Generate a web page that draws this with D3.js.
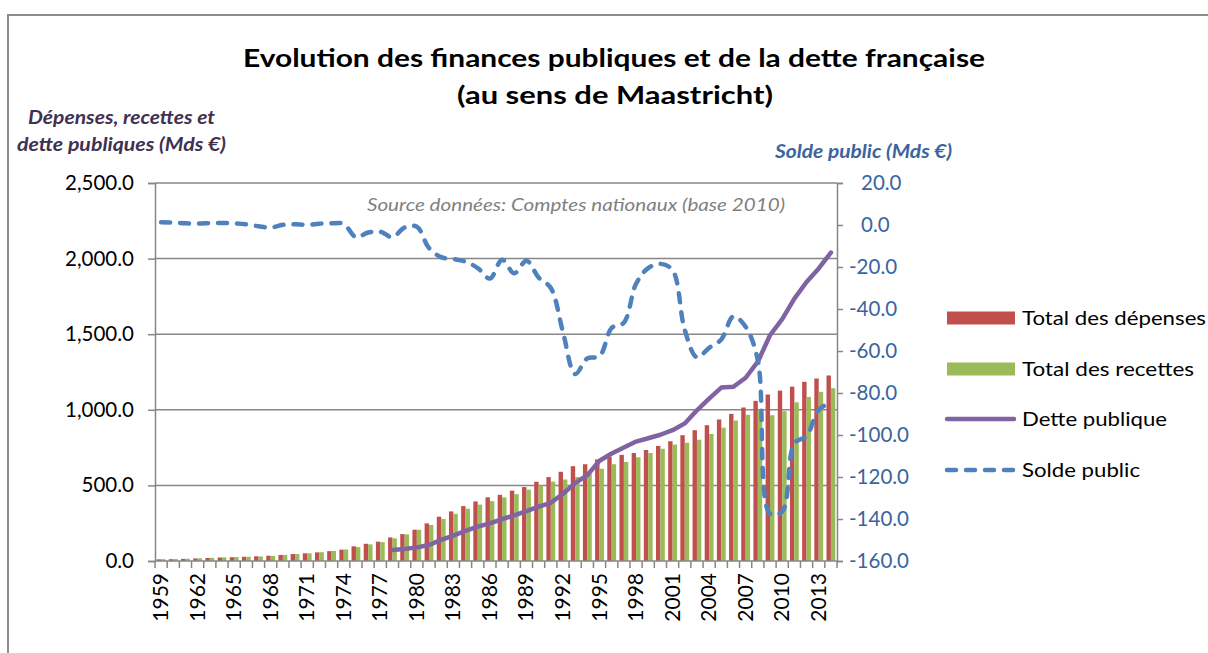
<!DOCTYPE html>
<html>
<head>
<meta charset="utf-8">
<script src="https://cdn.jsdelivr.net/npm/d3@7"></script>
<style>
  body { margin: 0; background: #fff; }
  svg { display: block; }
  text { font-family: Lato, "Open Sans", sans-serif; }
</style>
</head>
<body>
<svg id="chart" width="1208" height="653"></svg>
<script>
// Années (catégories de l'axe horizontal)
const years = [1959,1960,1961,1962,1963,1964,1965,1966,1967,1968,1969,1970,1971,1972,1973,1974,
  1975,1976,1977,1978,1979,1980,1981,1982,1983,1984,1985,1986,1987,1988,1989,1990,1991,1992,
  1993,1994,1995,1996,1997,1998,1999,2000,2001,2002,2003,2004,2005,2006,2007,2008,2009,2010,
  2011,2012,2013,2014];

// Total des dépenses publiques (Mds €)
const depenses = [11,12,14,17,20,23,25,28,31,35,40,46,51,57,65,75,
  97,114,128,156,178,207,249,293,328,363,394,421,438,465,489,524,555,590,
  627,640,672,688,702,714,734,761,792,832,865,898,936,973,1015,1059,1101,1127,
  1153,1185,1207,1227];

// Total des recettes publiques (Mds €)
const recettes = [12,13,15,18,21,24,26,28,30,34,40,46,51,58,66,76,
  92,110,125,150,176,206,238,278,312,346,373,396,421,442,472,499,525,539,
  556,576,610,640,655,686,714,742,770,782,802,840,882,929,967,995,964,991,
  1049,1085,1119,1143];

// Dette publique au sens de Maastricht (Mds €), disponible à partir de 1978
const dette = [null,null,null,null,null,null,null,null,null,null,null,null,null,null,null,null,
  null,null,null,73,80,90,106,140,168,200,227,249,277,302,330,360,385,445,
  515,568,663,711,751,790,812,835,865,910,997,1074,1147,1152,1212,1318,1493,1600,
  1735,1845,1935,2040];

// Solde public (Mds €)
const solde = [1.3,1.2,0.8,0.7,0.9,1.0,0.8,0.3,-0.6,-1.2,0.1,0.3,0.1,0.6,0.8,0.5,
  -5.8,-3.6,-3.2,-5.8,-1.2,-0.8,-11,-15.3,-16.2,-17.5,-20.5,-25.5,-16.5,-23,-17,-25,-30,-51,
  -71,-63.5,-62.5,-49,-46.5,-28,-20.5,-18.5,-21.5,-50,-63,-58.5,-54.5,-43.5,-48.5,-64.5,-137.5,-136.5,
  -104,-100.5,-88,-84.5];

// Graduations des axes et libellés
const leftTicks = [0,500,1000,1500,2000,2500];
const rightTicks = [20,0,-20,-40,-60,-80,-100,-120,-140,-160];
const yearLabels = [1959,1962,1965,1968,1971,1974,1977,1980,1983,1986,1989,1992,1995,1998,2001,2004,2007,2010,2013];
const seriesNames = ["Total des dépenses","Total des recettes","Dette publique","Solde public"];

const colors = { dep: "#c0504d", rec: "#9bbb59", dette: "#8064a2", solde: "#4f81bd" };
const gridColor = "#878787";

const svg = d3.select("#chart");
const plot = { left: 155, right: 837, top: 183, bottom: 561 };

// Cadre du graphique
svg.append("path")
  .attr("d", "M8,653 L8,15 L1208,15")
  .attr("fill", "none").attr("stroke", "#8c8c8c").attr("stroke-width", 2);

// Ajuste la largeur d'un texte à une largeur donnée
function fit(sel, w) {
  const n = sel.node().getComputedTextLength();
  if (Math.abs(n - w) > 1) sel.attr("textLength", w).attr("lengthAdjust", "spacingAndGlyphs");
  return sel;
}

// Échelles
const x = d3.scaleBand().domain(years).range([plot.left, plot.right]).padding(0);
const xs = d3.scaleBand().domain(["dep","rec"]).range([0, x.bandwidth()]).paddingInner(0).paddingOuter(0.38);
const y = d3.scaleLinear().domain([0, 2500]).range([plot.bottom, plot.top]);
const y2 = d3.scaleLinear().domain([-160, 20]).range([plot.bottom, plot.top]);

// Quadrillage horizontal
svg.append("g").selectAll("line").data(leftTicks.filter(d => d > 0)).join("line")
  .attr("x1", plot.left).attr("x2", plot.right)
  .attr("y1", d => y(d)).attr("y2", d => y(d))
  .attr("stroke", gridColor).attr("stroke-width", 1.5);

// Barres : dépenses et recettes
const bars = svg.append("g");
bars.selectAll("rect.dep").data(years).join("rect").attr("class", "dep")
  .attr("x", (d) => x(d) + xs("dep"))
  .attr("width", xs.bandwidth())
  .attr("y", (d, i) => y(depenses[i]))
  .attr("height", (d, i) => y(0) - y(depenses[i]))
  .attr("fill", colors.dep);
bars.selectAll("rect.rec").data(years).join("rect").attr("class", "rec")
  .attr("x", (d) => x(d) + xs("rec"))
  .attr("width", xs.bandwidth())
  .attr("y", (d, i) => y(recettes[i]))
  .attr("height", (d, i) => y(0) - y(recettes[i]))
  .attr("fill", colors.rec);

// Axe gauche
const axL = svg.append("g").attr("transform", `translate(${plot.left},0)`)
  .call(d3.axisLeft(y).tickValues(leftTicks).tickFormat(d3.format(",.1f")).tickSize(7).tickPadding(14));
axL.select(".domain").attr("stroke", gridColor).attr("stroke-width", 1.5);
axL.selectAll(".tick line").attr("stroke", gridColor).attr("stroke-width", 1.5);
axL.selectAll(".tick text").attr("font-size", 20.5).attr("fill", "#000").attr("font-family", "Lato, sans-serif");

// Axe droit
const axR = svg.append("g").attr("transform", `translate(${plot.right},0)`)
  .call(d3.axisRight(y2).tickValues(rightTicks).tickFormat(d => d.toFixed(1)).tickSize(6).tickPadding(12));
axR.select(".domain").attr("stroke", gridColor).attr("stroke-width", 1.5);
axR.selectAll(".tick line").attr("stroke", gridColor).attr("stroke-width", 1.5);
axR.selectAll(".tick text").attr("font-size", 20.5).attr("fill", "#3b649e").attr("font-family", "Lato, sans-serif")
  .attr("x", d => d < 0 ? 12 : 24);

// Axe des abscisses
const axB = svg.append("g");
axB.append("line").attr("x1", plot.left).attr("x2", plot.right)
  .attr("y1", plot.bottom).attr("y2", plot.bottom)
  .attr("stroke", gridColor).attr("stroke-width", 1.5);
axB.selectAll("line.tk").data(years.concat(["end"])).join("line").attr("class", "tk")
  .attr("x1", d => d === "end" ? plot.right : x(d)).attr("x2", d => d === "end" ? plot.right : x(d))
  .attr("y1", plot.bottom).attr("y2", plot.bottom + 7)
  .attr("stroke", gridColor).attr("stroke-width", 1.5);
axB.selectAll("text").data(yearLabels).join("text")
  .attr("transform", d => `translate(${x(d) + x.bandwidth() / 2 + 7},573) rotate(-90)`)
  .attr("text-anchor", "end")
  .attr("font-size", 21).attr("fill", "#000")
  .text(d => d);

// Courbe de la dette publique
const lineDette = d3.line()
  .defined(d => d[1] !== null)
  .x(d => x(d[0]) + x.bandwidth() / 2)
  .y(d => y(d[1]));
svg.append("path")
  .datum(years.map((yr, i) => [yr, dette[i]]))
  .attr("d", lineDette)
  .attr("fill", "none").attr("stroke", colors.dette).attr("stroke-width", 4.5)
  .attr("stroke-linejoin", "round").attr("stroke-linecap", "round");

// Courbe du solde public (axe droit)
const lineSolde = d3.line()
  .x(d => x(d[0]) + x.bandwidth() / 2)
  .y(d => y2(d[1]))
  .curve(d3.curveCatmullRom.alpha(0.5));
svg.append("path")
  .datum(years.map((yr, i) => [yr, solde[i]]))
  .attr("d", lineSolde)
  .attr("fill", "none").attr("stroke", colors.solde).attr("stroke-width", 4.5)
  .attr("stroke-dasharray", "9,10").attr("stroke-linecap", "round");

// Titre
const t1 = svg.append("text").attr("x", 614).attr("y", 66.5).attr("text-anchor", "middle")
  .attr("font-size", 25.5).attr("font-weight", "bold").attr("fill", "#000")
  .text("Evolution des finances publiques et de la dette française");
fit(t1, 742);
const t2 = svg.append("text").attr("x", 615).attr("y", 103.5).attr("text-anchor", "middle")
  .attr("font-size", 25.5).attr("font-weight", "bold").attr("fill", "#000")
  .text("(au sens de Maastricht)");
fit(t2, 316);

// Titres des axes
const a1 = svg.append("text").attr("x", 121.5).attr("y", 124).attr("text-anchor", "middle")
  .attr("font-size", 18).attr("font-weight", "bold").attr("font-style", "italic").attr("fill", "#3f3151")
  .text("Dépenses, recettes et");
fit(a1, 187);
const a2 = svg.append("text").attr("x", 121.5).attr("y", 151).attr("text-anchor", "middle")
  .attr("font-size", 18).attr("font-weight", "bold").attr("font-style", "italic").attr("fill", "#3f3151")
  .text("dette publiques (Mds €)");
fit(a2, 209);
const a3 = svg.append("text").attr("x", 863.5).attr("y", 158).attr("text-anchor", "middle")
  .attr("font-size", 18).attr("font-weight", "bold").attr("font-style", "italic").attr("fill", "#3b649e")
  .text("Solde public (Mds €)");
fit(a3, 177);

// Source
const src = svg.append("text").attr("x", 576).attr("y", 211).attr("text-anchor", "middle")
  .attr("font-size", 17).attr("font-style", "italic").attr("fill", "#808080")
  .text("Source données: Comptes nationaux (base 2010)");
fit(src, 418);

// Légende
const leg = svg.append("g");
const legY = [318, 369, 419, 470];
leg.append("rect").attr("x", 947).attr("y", legY[0] - 6.5).attr("width", 68).attr("height", 13).attr("fill", colors.dep);
leg.append("rect").attr("x", 947).attr("y", legY[1] - 6.5).attr("width", 68).attr("height", 13).attr("fill", colors.rec);
leg.append("line").attr("x1", 947).attr("x2", 1014).attr("y1", legY[2]).attr("y2", legY[2])
  .attr("stroke", colors.dette).attr("stroke-width", 4.5).attr("stroke-linecap", "round");
leg.append("line").attr("x1", 947).attr("x2", 1014).attr("y1", legY[3]).attr("y2", legY[3])
  .attr("stroke", colors.solde).attr("stroke-width", 4.5).attr("stroke-dasharray", "9,10").attr("stroke-linecap", "round");
const legW = [184, 172, 145, 118];
seriesNames.forEach((name, i) => {
  const t = leg.append("text").attr("x", 1022).attr("y", legY[i] + 7)
    .attr("font-size", 20).attr("fill", "#000").text(name);
  fit(t, legW[i]);
});
</script>
</body>
</html>
